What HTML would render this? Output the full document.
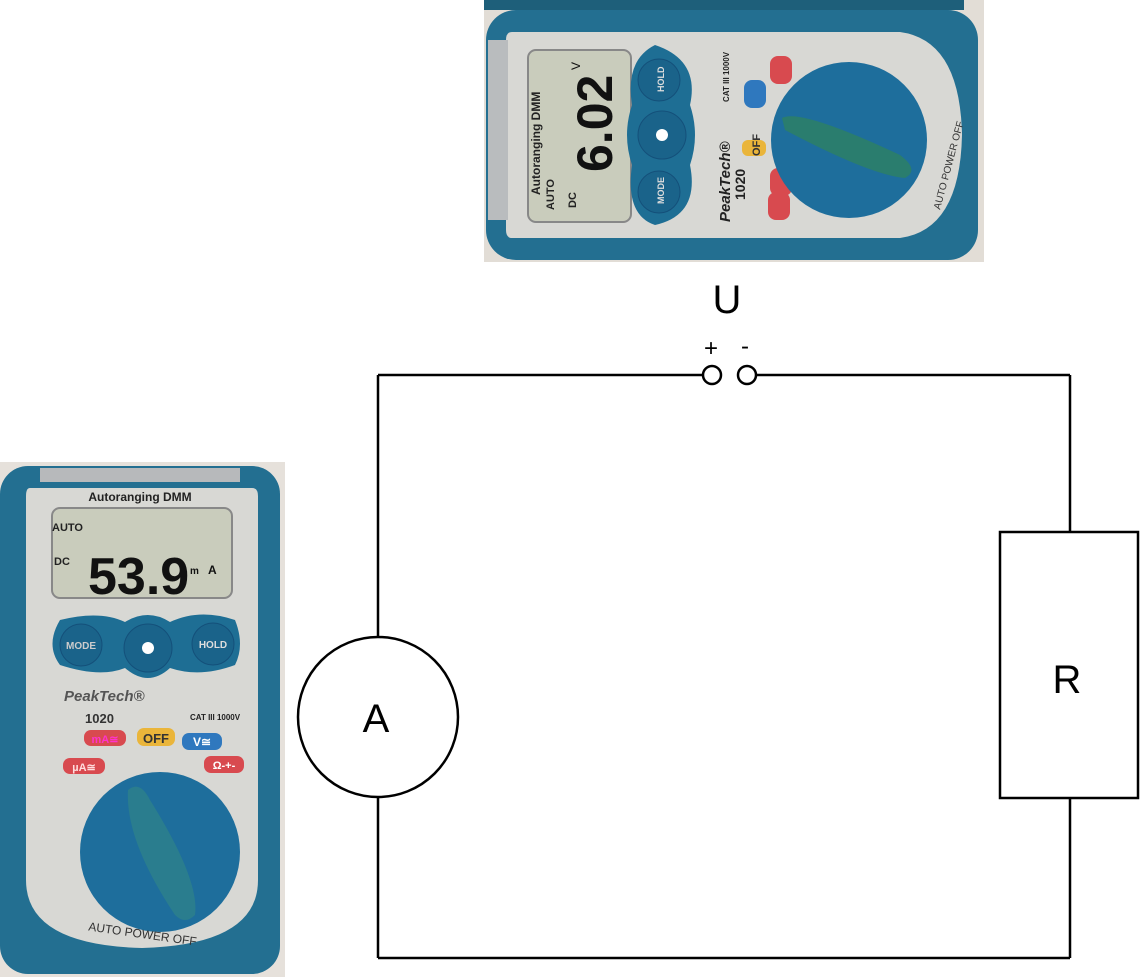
<!DOCTYPE html>
<html><head><meta charset="utf-8"><style>
html,body{margin:0;padding:0;background:#fff;width:1140px;height:977px;overflow:hidden}
svg{display:block}
text{font-family:"Liberation Sans",sans-serif}
</style></head><body>
<svg width="1140" height="977" viewBox="0 0 1140 977" xmlns="http://www.w3.org/2000/svg">
<!-- Circuit -->
<g fill="none" stroke="#000" stroke-width="2.5">
<line x1="378" y1="375" x2="703" y2="375"/>
<line x1="756" y1="375" x2="1070" y2="375"/>
<line x1="1070" y1="375" x2="1070" y2="532"/>
<rect x="1000" y="532" width="138" height="266"/>
<line x1="1070" y1="798" x2="1070" y2="958"/>
<line x1="1070" y1="958" x2="378" y2="958"/>
<line x1="378" y1="958" x2="378" y2="797"/>
<line x1="378" y1="637" x2="378" y2="375"/>
<circle cx="378" cy="717" r="80" fill="#fff"/>
<circle cx="712" cy="375" r="9" fill="#fff"/>
<circle cx="747" cy="375" r="9" fill="#fff"/>
</g>
<text x="727" y="313" font-size="40" text-anchor="middle">U</text>
<text x="711" y="356" font-size="24" text-anchor="middle">+</text>
<text x="745" y="354" font-size="24" text-anchor="middle">-</text>
<text x="376" y="732" font-size="40" text-anchor="middle">A</text>
<text x="1067" y="693" font-size="40" text-anchor="middle">R</text>

<!-- Top meter (rotated) -->
<rect x="484" y="0" width="500" height="262" fill="#e2ddd6"/>
<rect x="484" y="0" width="480" height="10" fill="#1e5f7a"/>
<rect x="486" y="10" width="492" height="250" rx="30" fill="#236f91"/>
<path d="M512 32 H900 Q960 40 962 135 Q960 230 900 238 H512 Q506 238 506 230 V40 Q506 32 512 32Z" fill="#d8d8d4"/>
<rect x="488" y="40" width="20" height="180" fill="#b9bcbe"/>
<rect x="528" y="50" width="103" height="172" rx="8" fill="#c9ccbc" stroke="#888" stroke-width="2"/>
<text transform="translate(540,195) rotate(-90)" font-size="12" font-weight="bold" fill="#222">Autoranging DMM</text>
<text transform="translate(554,210) rotate(-90)" font-size="11" font-weight="bold" fill="#222">AUTO</text>
<text transform="translate(576,208) rotate(-90)" font-size="11" font-weight="bold" fill="#222">DC</text>
<text transform="translate(612,172) rotate(-90)" font-size="50" font-weight="bold" fill="#111">6.02</text>
<text transform="translate(580,70) rotate(-90)" font-size="12" fill="#111">V</text>
<path d="M655 45 Q700 60 690 105 Q700 135 690 165 Q700 215 655 225 Q625 215 632 165 Q622 135 632 105 Q625 60 655 45Z" fill="#1e6e94"/>
<circle cx="659" cy="80" r="21" fill="#1a638a" stroke="#14507a"/>
<circle cx="662" cy="135" r="24" fill="#1a638a" stroke="#14507a"/>
<circle cx="659" cy="192" r="21" fill="#1a638a" stroke="#14507a"/>
<text transform="translate(664,92) rotate(-90)" font-size="9" font-weight="bold" fill="#ddd">HOLD</text>
<text transform="translate(664,204) rotate(-90)" font-size="9" font-weight="bold" fill="#ddd">MODE</text>
<circle cx="662" cy="135" r="6" fill="#fff"/>
<text transform="translate(730,222) rotate(-90)" font-size="15" font-weight="bold" font-style="italic" fill="#222">PeakTech®</text>
<text transform="translate(745,200) rotate(-90)" font-size="14" font-weight="bold" fill="#222">1020</text>
<text transform="translate(729,102) rotate(-90)" font-size="8" font-weight="bold" fill="#222">CAT III 1000V</text>
<rect x="742" y="140" width="24" height="16" rx="6" fill="#eab53a"/>
<text transform="translate(760,156) rotate(-90)" font-size="11" font-weight="bold" fill="#333">OFF</text>
<rect x="744" y="80" width="22" height="28" rx="8" fill="#2f78be"/>
<rect x="770" y="56" width="22" height="28" rx="8" fill="#d84a4f"/>
<rect x="770" y="168" width="22" height="28" rx="8" fill="#d84a4f"/>
<rect x="768" y="192" width="22" height="28" rx="8" fill="#d84a4f"/>
<circle cx="849" cy="140" r="78" fill="#1e6e9c"/>
<path d="M782 118 Q800 108 900 155 Q920 170 905 178 Q870 175 785 130 Z" fill="#2a7d6e"/>
<text transform="translate(940,210) rotate(-75)" font-size="10" fill="#333">AUTO POWER OFF</text>

<!-- Bottom-left meter -->
<rect x="0" y="462" width="285" height="515" fill="#e6e1db"/>
<rect x="0" y="466" width="280" height="508" rx="28" fill="#236f91"/>
<rect x="40" y="468" width="200" height="14" fill="#b7b9bb"/>
<path d="M30 488 H252 Q258 488 258 496 V880 Q258 945 142 948 Q26 945 26 880 V496 Q26 488 30 488Z" fill="#d8d8d4"/>
<text x="140" y="501" font-size="12" font-weight="bold" text-anchor="middle" fill="#222">Autoranging DMM</text>
<rect x="52" y="508" width="180" height="90" rx="8" fill="#c9ccbc" stroke="#888" stroke-width="2"/>
<text x="52" y="531" font-size="11" font-weight="bold" fill="#222">AUTO</text>
<text x="54" y="565" font-size="11" font-weight="bold" fill="#222">DC</text>
<text x="88" y="594" font-size="52" font-weight="bold" fill="#111">53.9</text>
<text x="190" y="574" font-size="10" font-weight="bold" fill="#111">m</text>
<text x="208" y="574" font-size="12" font-weight="bold" fill="#111">A</text>
<path d="M60 620 Q100 610 125 622 Q148 608 170 622 Q200 608 235 620 Q245 645 235 665 Q200 678 170 668 Q148 688 125 668 Q100 678 60 665 Q45 645 60 620Z" fill="#1e6e94"/>
<circle cx="81" cy="645" r="21" fill="#1a638a" stroke="#14507a"/>
<circle cx="148" cy="648" r="24" fill="#1a638a" stroke="#14507a"/>
<circle cx="213" cy="644" r="21" fill="#1a638a" stroke="#14507a"/>
<text x="81" y="649" font-size="10" font-weight="bold" text-anchor="middle" fill="#ccc">MODE</text>
<text x="213" y="648" font-size="10" font-weight="bold" text-anchor="middle" fill="#ddd">HOLD</text>
<circle cx="148" cy="648" r="6" fill="#fff"/>
<text x="64" y="701" font-size="15" font-weight="bold" font-style="italic" fill="#555">PeakTech®</text>
<text x="85" y="723" font-size="13" font-weight="bold" fill="#333">1020</text>
<text x="190" y="720" font-size="8" font-weight="bold" fill="#222">CAT III 1000V</text>
<rect x="84" y="730" width="42" height="16" rx="7" fill="#d84a4f"/>
<text x="105" y="743" font-size="11" font-weight="bold" text-anchor="middle" fill="#f3c">mA≅</text>
<rect x="63" y="758" width="42" height="16" rx="7" fill="#d84a4f"/>
<text x="84" y="771" font-size="11" font-weight="bold" text-anchor="middle" fill="#fdd">µA≅</text>
<rect x="137" y="728" width="38" height="18" rx="7" fill="#eab53a"/>
<text x="156" y="743" font-size="13" font-weight="bold" text-anchor="middle" fill="#333">OFF</text>
<rect x="182" y="733" width="40" height="17" rx="7" fill="#2f78be"/>
<text x="202" y="746" font-size="12" font-weight="bold" text-anchor="middle" fill="#fff">V≅</text>
<rect x="204" y="756" width="40" height="17" rx="7" fill="#d84a4f"/>
<text x="224" y="769" font-size="11" font-weight="bold" text-anchor="middle" fill="#fff">Ω-+-</text>
<circle cx="160" cy="852" r="80" fill="#1e6e9c"/>
<path d="M128 790 Q140 780 150 800 Q200 880 195 915 Q185 925 175 915 Q125 840 128 790Z" fill="#2a7d8e"/>
<text x="142" y="938" font-size="12" text-anchor="middle" fill="#333" transform="rotate(8 142 938)">AUTO POWER OFF</text>
</svg>
</body></html>
